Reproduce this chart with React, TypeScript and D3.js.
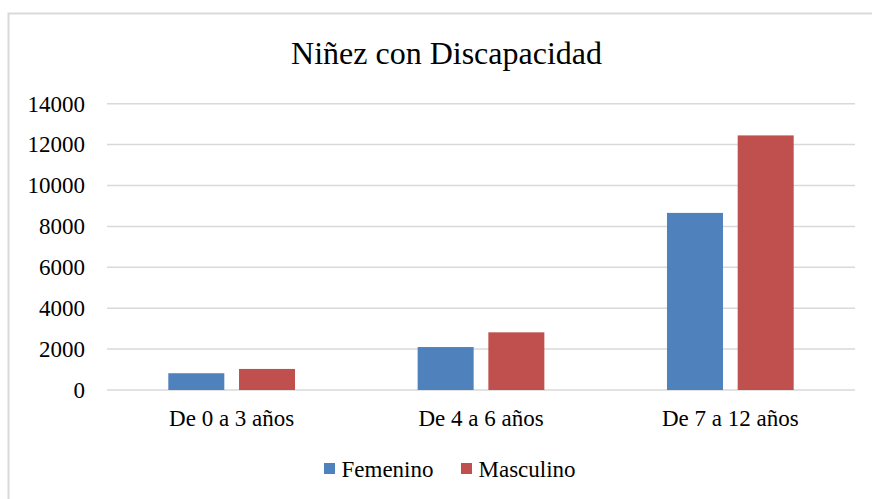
import React from "react";
import { select, scaleBand, scaleLinear } from "d3";

const categories = ["De 0 a 3 años", "De 4 a 6 años", "De 7 a 12 años"];
const seriesNames = ["Femenino", "Masculino"];
const femenino = [820, 2100, 8660];
const masculino = [1030, 2820, 12450];
const yTicks = [0, 2000, 4000, 6000, 8000, 10000, 12000, 14000];

const colors = ["#4F81BD", "#C0504D"];
const font = "Liberation Serif, Times New Roman, Tinos, DejaVu Serif, serif";

export default function App() {
  const svgRef = React.useRef<SVGSVGElement>(null);
  const width = 872;
  const height = 499;

  React.useEffect(() => {
    const svg = select(svgRef.current);
    svg.selectAll("*").remove();

    const margin = { top: 103.7, right: 855, bottom: 390, left: 107 };

    const x0 = scaleBand<string>()
      .domain(categories)
      .range([margin.left, margin.right])
      .padding(0);

    const x1 = scaleBand<string>()
      .domain(seriesNames)
      .range([0, x0.bandwidth()])
      .paddingInner(0.208)
      .paddingOuter(0.867);

    const y = scaleLinear().domain([0, 14000]).range([margin.bottom, margin.top]);

    // chart area border
    svg
      .append("rect")
      .attr("x", 8.5)
      .attr("y", 13.5)
      .attr("width", 900)
      .attr("height", 520)
      .attr("fill", "white")
      .attr("stroke", "#d9d9d9")
      .attr("stroke-width", 2);

    svg
      .append("text")
      .attr("x", 446.5)
      .attr("y", 64.3)
      .attr("text-anchor", "middle")
      .style("font-family", font)
      .attr("font-size", 32)
      .attr("fill", "#000")
      .text("Niñez con Discapacidad");

    // gridlines
    svg
      .append("g")
      .selectAll("line")
      .data(yTicks)
      .join("line")
      .attr("x1", margin.left)
      .attr("x2", margin.right)
      .attr("y1", (d) => y(d))
      .attr("y2", (d) => y(d))
      .attr("stroke", "#d9d9d9")
      .attr("stroke-width", 1.5);

    svg
      .append("g")
      .selectAll("text")
      .data(yTicks)
      .join("text")
      .attr("x", 85)
      .attr("y", (d) => y(d))
      .attr("dy", "0.34em")
      .attr("text-anchor", "end")
      .style("font-family", font)
      .attr("font-size", 23)
      .attr("fill", "#000")
      .text((d) => `${d}`);

    const values = [femenino, masculino];
    const bars = categories.flatMap((c, i) =>
      seriesNames.map((s, j) => ({ c, s, v: values[j][i], color: colors[j] }))
    );

    svg
      .append("g")
      .selectAll("rect")
      .data(bars)
      .join("rect")
      .attr("x", (d) => (x0(d.c) ?? 0) + (x1(d.s) ?? 0))
      .attr("y", (d) => y(d.v))
      .attr("width", x1.bandwidth())
      .attr("height", (d) => y(0) - y(d.v))
      .attr("fill", (d) => d.color);

    svg
      .append("g")
      .selectAll("text")
      .data(categories)
      .join("text")
      .attr("x", (d) => (x0(d) ?? 0) + x0.bandwidth() / 2)
      .attr("y", 426)
      .attr("text-anchor", "middle")
      .style("font-family", font)
      .attr("font-size", 23)
      .attr("fill", "#000")
      .text((d) => d);

    // legend
    const legendX = [324, 461];
    const legend = svg
      .append("g")
      .selectAll("g")
      .data(seriesNames)
      .join("g")
      .attr("transform", (d, i) => `translate(${legendX[i]},463)`);
    legend
      .append("rect")
      .attr("width", 11)
      .attr("height", 11)
      .attr("fill", (d, i) => colors[i]);
    legend
      .append("text")
      .attr("x", 17.5)
      .attr("y", 13.7)
      .style("font-family", font)
      .attr("font-size", 23)
      .attr("fill", "#000")
      .text((d) => d);

    return () => {
      svg.selectAll("*").remove();
    };
  }, []);

  return (
    <svg
      ref={svgRef}
      width={width}
      height={height}
      style={{ position: "absolute", left: 0, top: 0, background: "white" }}
    />
  );
}
